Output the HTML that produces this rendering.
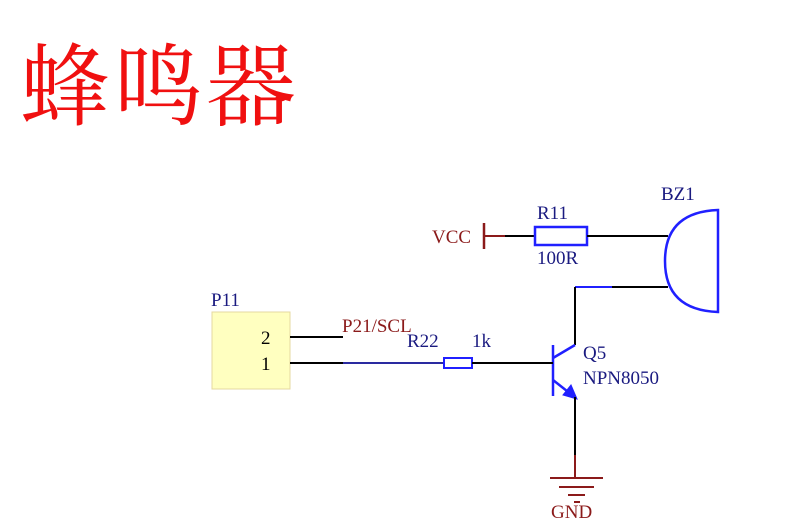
<!DOCTYPE html>
<html><head><style>
body{margin:0;background:#fff;width:786px;height:529px;overflow:hidden;position:relative}
.t{position:absolute;left:20px;top:44px;font-family:"Liberation Serif","Noto Serif CJK SC",serif;font-size:90px;color:#f01010;letter-spacing:3px;line-height:1}
</style></head><body>
<div class="t">蜂鸣器</div>
<svg width="786" height="529" style="position:absolute;left:0;top:0" font-family="Liberation Serif, serif" font-size="19">
<g stroke-width="2" fill="none">
<line x1="484" y1="223" x2="484" y2="249" stroke="#8b1a1a" stroke-width="2.5"/>
<line x1="484" y1="236" x2="505" y2="236" stroke="#8b1a1a"/>
<line x1="505" y1="236" x2="535" y2="236" stroke="#000"/>
<rect x="535" y="227" width="52" height="18" stroke="#2020ff" stroke-width="2.5"/>
<line x1="587" y1="236" x2="668" y2="236" stroke="#000"/>
<path d="M718,210 Q665,212 665,261 Q665,310 718,312 Z" stroke="#2020ff" stroke-width="2.5"/>
<line x1="575" y1="287" x2="668" y2="287" stroke="#000"/>
<line x1="575" y1="287" x2="612" y2="287" stroke="#2020ff"/>
<line x1="575" y1="287" x2="575" y2="345" stroke="#000"/>
<line x1="575" y1="345" x2="553" y2="358" stroke="#2020ff" stroke-width="2.5"/>
<line x1="553" y1="345" x2="553" y2="396" stroke="#2020ff" stroke-width="2.5"/>
<line x1="553" y1="380" x2="572" y2="395" stroke="#2020ff" stroke-width="2.5"/>
<polygon points="577,399 563,395 571,385" fill="#2020ff" stroke="#2020ff" stroke-width="1"/>
<line x1="575" y1="397" x2="575" y2="455" stroke="#000"/>
<line x1="575" y1="455" x2="575" y2="478" stroke="#8b1a1a"/>
<line x1="550" y1="478" x2="603" y2="478" stroke="#8b1a1a"/>
<line x1="559" y1="487" x2="594" y2="487" stroke="#8b1a1a"/>
<line x1="568" y1="495" x2="585" y2="495" stroke="#8b1a1a"/>
<line x1="574" y1="502" x2="580" y2="502" stroke="#8b1a1a"/>
<rect x="212" y="312" width="78" height="77" fill="#ffffc0" stroke="#e6d8a0" stroke-width="1"/>
<line x1="290" y1="337" x2="343" y2="337" stroke="#000"/>
<line x1="290" y1="363" x2="343" y2="363" stroke="#000"/>
<line x1="343" y1="363" x2="444" y2="363" stroke="#2a2aa0"/>
<rect x="444" y="358" width="28" height="10" stroke="#2020ff" stroke-width="2"/>
<line x1="472" y1="363" x2="553" y2="363" stroke="#000"/>
</g>
<g fill="#8b1a1a"><text x="432" y="243">VCC</text><text x="342" y="332">P21/SCL</text><text x="551" y="518">GND</text></g>
<g fill="#1a1a80"><text x="537" y="219">R11</text><text x="537" y="264">100R</text><text x="661" y="200">BZ1</text><text x="211" y="306">P11</text><text x="407" y="347">R22</text><text x="472" y="347">1k</text><text x="583" y="359">Q5</text><text x="583" y="384">NPN8050</text></g>
<g fill="#000"><text x="261" y="344">2</text><text x="261" y="370">1</text></g>
</svg>
</body></html>
